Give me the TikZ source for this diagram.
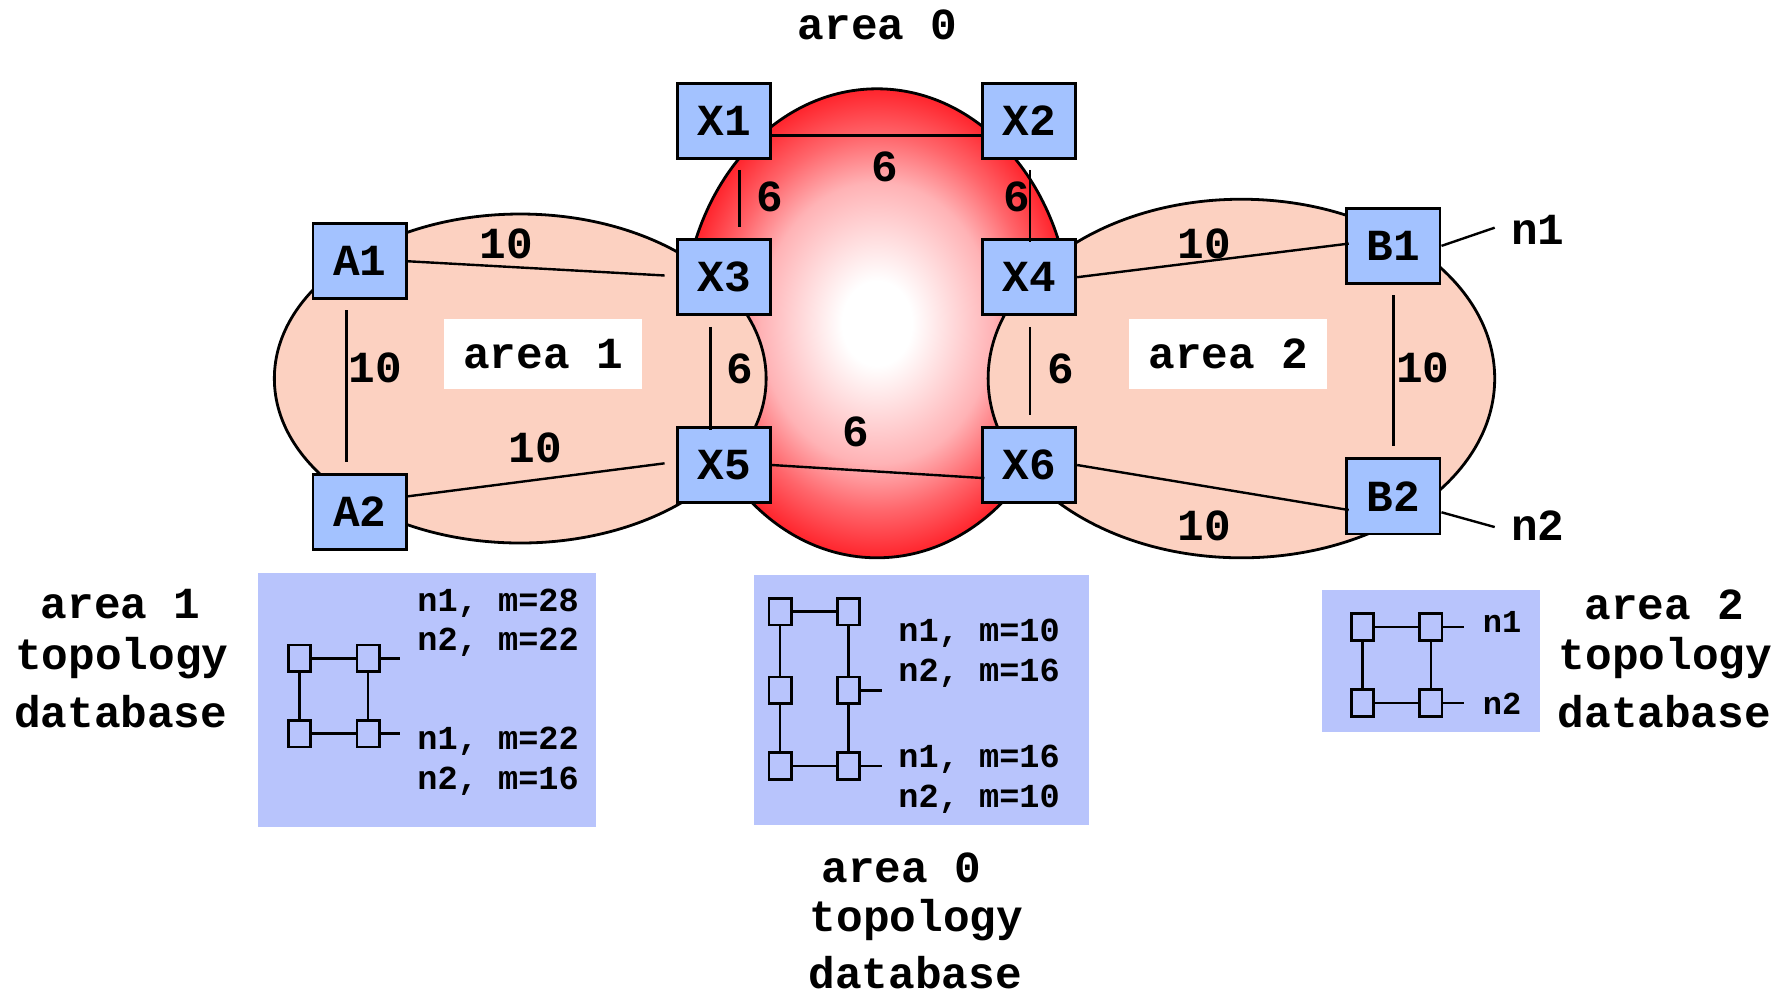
\documentclass[tikz,border=0pt]{standalone}
\usepackage{fontspec}
\setmonofont{Liberation Mono}
\definecolor{boxblue}{RGB}{163,194,255}
\definecolor{peach}{RGB}{252,209,193}
\definecolor{dbblue}{RGB}{184,196,252}
\definecolor{redzero}{RGB}{255,36,44}
\pgfdeclareradialshading{redglow}{\pgfpoint{0bp}{0bp}}{color(0bp)=(white); color(4.5bp)=(white); color(15bp)=(redzero!35!white); color(20bp)=(redzero!70!white); color(25bp)=(redzero); color(50bp)=(redzero)}
\begin{document}
\begin{tikzpicture}[x=0.1mm,y=-0.1mm,
  font=\ttfamily\bfseries\fontsize{11.1}{13.4}\selectfont,
  router/.style={draw,fill=boxblue,minimum width=8.2mm,minimum height=6.6mm,inner sep=0pt,line width=0.7pt},
  link/.style={line width=0.6pt},
  lbl/.style={inner sep=0pt},
  sq/.style={draw,minimum width=1.95mm,minimum height=2.35mm,inner sep=0pt,line width=0.7pt},
  dbt/.style={anchor=west,inner sep=0pt,font=\ttfamily\bfseries\fontsize{8.4}{10}\selectfont},
  dbtsmall/.style={anchor=west,inner sep=0pt,font=\ttfamily\bfseries\fontsize{8}{10}\selectfont},
  areabox/.style={fill=white,minimum width=17.4mm,minimum height=6.2mm,inner sep=0pt}
]
\useasboundingbox (0,0) rectangle (1568,871);
% area ellipses
\shadedraw[shading=redglow,line width=0.7pt] (770.4,284) ellipse [x radius=17.04mm,y radius=20.6mm];
\draw[fill=peach,line width=0.7pt] (457,332.5) ellipse [x radius=21.6mm,y radius=14.45mm];
\draw[fill=peach,line width=0.7pt] (1090.5,332.5) ellipse [x radius=22.25mm,y radius=15.75mm];
\node[areabox] (ar1) at (477,311) {area 1};
\node[areabox] (ar2) at (1079,311) {area 2};
\node[lbl] (ar0) at (771,22) {area 0};
% routers
\node[router] (A1) at (316,229.5) {A1};
\node[router] (A2) at (316,449.5) {A2};
\node[router] (X1) at (636,106) {X1};
\node[router] (X2) at (904,106) {X2};
\node[router] (X3) at (636,243.5) {X3};
\node[router] (X4) at (904,243.5) {X4};
\node[router] (X5) at (636,408.5) {X5};
\node[router] (X6) at (904,408.5) {X6};
\node[router] (B1) at (1224,216) {B1};
\node[router] (B2) at (1224,436) {B2};
% links
\draw[link] ([yshift=-1.3mm]X1.east) -- ([yshift=-1.3mm]X2.west);
\draw[link] ([xshift=1.35mm,yshift=-0.9mm]X1.south) -- ([xshift=1.35mm,yshift=1mm]X3.north);
\draw[link] ([xshift=0.1mm,yshift=-0.9mm]X2.south) -- ([xshift=0.1mm,yshift=-0.35mm]X4.north);
\draw[link] ([xshift=-1.2mm,yshift=-0.95mm]X3.south) -- ([xshift=-1.2mm,yshift=-0.35mm]X5.north);
\draw[link] ([xshift=0.1mm,yshift=-0.95mm]X4.south) -- ([xshift=0.1mm,yshift=1mm]X6.north);
\draw[link] (X5.east) -- ([xshift=0.3mm,yshift=-1.15mm]X6.west);
\draw[link] (A1.east) -- ([xshift=-1mm,yshift=0.15mm]X3.west);
\draw[link] ([xshift=-1.15mm,yshift=-0.9mm]A1.south) -- ([xshift=-1.15mm,yshift=0.9mm]A2.north);
\draw[link] ([yshift=1.35mm]A2.east) -- ([xshift=-1mm,yshift=0.15mm]X5.west);
\draw[link] (X4.east) -- ([xshift=0.3mm,yshift=0.2mm]B1.west);
\draw[link] (X6.east) -- ([xshift=0.3mm,yshift=-1.2mm]B2.west);
\draw[link] ([yshift=-0.9mm]B1.south) -- ([yshift=1mm]B2.north);
\coordinate (n1end) at (1313,200);
\coordinate (n2end) at (1313,463);
\draw[link] (B1.east) -- (n1end);
\draw[link] ([yshift=-1.4mm]B2.east) -- (n2end);
\node[lbl] (n1) at (1351,202) {n1};
\node[lbl] (n2) at (1351,462) {n2};
% weights
\node[lbl] (w12) at (777,147) {6};
\node[lbl] (w13) at (676,173) {6};
\node[lbl] (w24) at (893,173) {6};
\node[lbl] (w35) at (650,324) {6};
\node[lbl] (w46) at (931.5,324) {6};
\node[lbl] (w56) at (752,379) {6};
\node[lbl] (wa13) at (445,214) {10};
\node[lbl] (wa12) at (329.5,323.5) {10};
\node[lbl] (wa25) at (470.5,393.5) {10};
\node[lbl] (wb41) at (1058,214) {10};
\node[lbl] (wb12) at (1250,323.5) {10};
\node[lbl] (wb62) at (1058,462) {10};
% ---- area 1 database
\fill[dbblue] (226.6,503) rectangle (523.5,726.5);
\node[sq] (p1) at (263.2,578.3) {};
\node[sq] (p2) at (323.3,578.3) {};
\node[sq] (p3) at (263.2,644.5) {};
\node[sq] (p4) at (323.3,644.5) {};
\coordinate (p2s) at (351.4,578.3);
\coordinate (p4s) at (351.4,644.5);
\draw[link] (p1) -- (p2);
\draw[link] (p1) -- (p3);
\draw[link] (p2) -- (p4);
\draw[link] (p3) -- (p4);
\draw[link] (p2.east) -- (p2s);
\draw[link] (p4.east) -- (p4s);
\node[dbt] (t1a) at (366,530) {n1, m=28};
\node[dbt] (t1b) at (366,564) {n2, m=22};
\node[dbt] (t1c) at (366,651) {n1, m=22};
\node[dbt] (t1d) at (366,686) {n2, m=16};
% ---- area 0 database
\fill[dbblue] (662.3,505) rectangle (956.6,724.7);
\node[sq] (q1) at (685.2,537.3) {};
\node[sq] (q2) at (745.3,537.3) {};
\node[sq] (q3) at (685.2,606.4) {};
\node[sq] (q4) at (745.3,606.4) {};
\node[sq] (q5) at (685.2,672.7) {};
\node[sq] (q6) at (745.3,672.7) {};
\coordinate (q4s) at (774.5,606.4);
\coordinate (q6s) at (774.5,672.7);
\draw[link] (q1) -- (q2);
\draw[link] (q1) -- (q3);
\draw[link] (q3) -- (q5);
\draw[link] (q2) -- (q4);
\draw[link] (q4) -- (q6);
\draw[link] (q5) -- (q6);
\draw[link] (q4.east) -- (q4s);
\draw[link] (q6.east) -- (q6s);
\node[dbt] (t0a) at (788.5,556) {n1, m=10};
\node[dbt] (t0b) at (788.5,591.5) {n2, m=16};
\node[dbt] (t0c) at (788.5,667) {n1, m=16};
\node[dbt] (t0d) at (788.5,702) {n2, m=10};
% ---- area 2 database
\fill[dbblue] (1161.6,518.3) rectangle (1352.8,642.7);
\node[sq] (r1) at (1196.9,551) {};
\node[sq] (r2) at (1256.9,551) {};
\node[sq] (r3) at (1196.9,617.5) {};
\node[sq] (r4) at (1256.9,617.5) {};
\coordinate (r2s) at (1286,551);
\coordinate (r4s) at (1286,617.5);
\draw[link] (r1) -- (r2);
\draw[link] (r1) -- (r3);
\draw[link] (r2) -- (r4);
\draw[link] (r3) -- (r4);
\draw[link] (r2.east) -- (r2s);
\draw[link] (r4.east) -- (r4s);
\node[dbtsmall] (t2a) at (1302,546) {n1};
\node[dbtsmall] (t2b) at (1302,618) {n2};
% ---- captions
\node[lbl] (c1a) at (106,531) {area 1};
\node[lbl] (c1b) at (107,578) {topology};
\node[lbl] (c1c) at (106,625) {database};
\node[lbl] (c2a) at (1462,531) {area 2};
\node[lbl] (c2b) at (1463,578) {topology};
\node[lbl] (c2c) at (1462,625) {database};
\node[lbl] (c0a) at (792,762) {area 0};
\node[lbl] (c0b) at (805,808) {topology};
\node[lbl] (c0c) at (804,854) {database};
\end{tikzpicture}
\end{document}
